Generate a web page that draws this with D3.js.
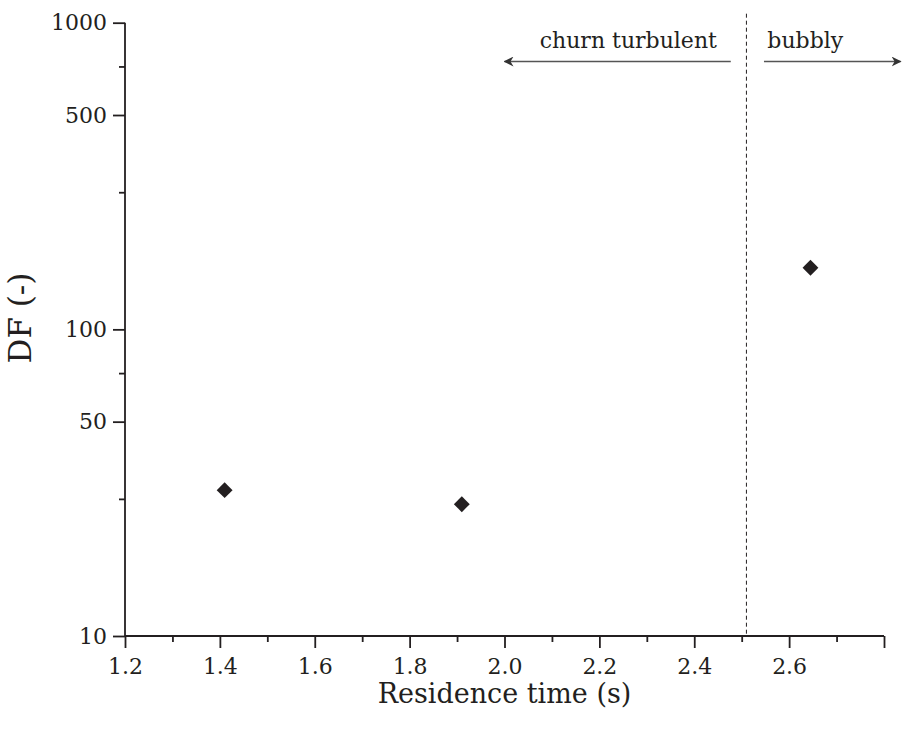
<!DOCTYPE html>
<html>
<head>
<meta charset="utf-8">
<script src="https://cdn.jsdelivr.net/npm/d3@7"></script>
<style>
  body { margin: 0; background: #fff; }
  text { font-family: "DejaVu Serif", serif; fill: #231f20; }
</style>
</head>
<body>
<div id="chart"></div>
<script>
// data
var residenceTime = [1.41, 1.91, 2.645];
var dfValues = [29.9, 26.9, 158.8];
var xTicks = [1.2, 1.4, 1.6, 1.8, 2.0, 2.2, 2.4, 2.6, 2.8];
var xMinorTicks = [1.3, 1.5, 1.7, 1.9, 2.1, 2.3, 2.5, 2.7];
var yTicks = [10, 50, 100, 500, 1000];
var yMinorTicks = [28, 72, 280, 720];
var regimeBoundary = 2.51;

var svg = d3.select("#chart").append("svg")
  .attr("width", 907)
  .attr("height", 740);

var x = d3.scaleLinear().domain([1.2, 2.8]).range([125, 884]);
var y = d3.scaleLog().domain([10, 1000]).range([636, 22.7]);

var ink = "#231f20";

// x axis
var xAxis = svg.append("g")
  .attr("transform", "translate(0," + y(10) + ")")
  .call(d3.axisBottom(x).tickValues(xTicks).tickSize(12).tickPadding(10)
    .tickFormat(function(d){ return d == 2.8 ? "" : d3.format(".1f")(d); }));
svg.append("g")
  .attr("transform", "translate(0," + y(10) + ")")
  .call(d3.axisBottom(x).tickValues(xMinorTicks).tickSize(6).tickFormat(""))
  .select(".domain").remove();

// y axis
var yAxis = svg.append("g")
  .attr("transform", "translate(" + x(1.2) + ",0)")
  .call(d3.axisLeft(y).tickValues(yTicks).tickSize(12).tickPadding(6)
    .tickFormat(d3.format("d")));
svg.append("g")
  .attr("transform", "translate(" + x(1.2) + ",0)")
  .call(d3.axisLeft(y).tickValues(yMinorTicks).tickSize(6).tickFormat(""))
  .select(".domain").remove();

svg.selectAll(".domain").attr("stroke", ink).attr("stroke-width", 1.8);
svg.selectAll(".tick line").attr("stroke", ink).attr("stroke-width", 1.8);
svg.selectAll(".tick text")
  .style("font-family", "DejaVu Serif")
  .style("font-size", "22px")
  .attr("fill", ink);
// plain axis lines without the outer stubs
xAxis.select(".domain").attr("d", "M" + x(1.2) + ",0H" + x(2.8));
yAxis.select(".domain").attr("d", "M0," + y(10) + "V" + y(1000));

// axis titles
svg.append("text")
  .text("Residence time (s)")
  .attr("x", (x(1.2) + x(2.8)) / 2)
  .attr("y", 703)
  .attr("text-anchor", "middle")
  .style("font-size", "27px");

svg.append("text")
  .text("DF (-)")
  .attr("transform", "translate(31,318) rotate(-90)")
  .attr("text-anchor", "middle")
  .style("font-size", "31px");

// regime boundary
svg.append("line")
  .attr("x1", x(regimeBoundary))
  .attr("x2", x(regimeBoundary))
  .attr("y1", y(1070))
  .attr("y2", y(10))
  .attr("stroke", ink)
  .attr("stroke-width", 1)
  .attr("stroke-dasharray", "4,3");

// regime annotations
svg.append("defs").append("marker")
  .attr("id", "head")
  .attr("viewBox", "0 0 10 10")
  .attr("refX", 9)
  .attr("refY", 5)
  .attr("markerWidth", 10)
  .attr("markerHeight", 10)
  .attr("markerUnits", "userSpaceOnUse")
  .attr("orient", "auto")
  .append("path")
    .attr("d", "M0,0 L10,5 L0,10 L3,5 Z")
    .attr("fill", "#333");

svg.append("line")
  .attr("x1", x(2.477)).attr("x2", x(2.0))
  .attr("y1", y(747)).attr("y2", y(747))
  .attr("stroke", "#555").attr("stroke-width", 1.5)
  .attr("marker-end", "url(#head)");

svg.append("line")
  .attr("x1", x(2.547)).attr("x2", x(2.835))
  .attr("y1", y(747)).attr("y2", y(747))
  .attr("stroke", "#555").attr("stroke-width", 1.5)
  .attr("marker-end", "url(#head)");

svg.append("text")
  .text("churn turbulent")
  .attr("x", x(2.261))
  .attr("y", y(830))
  .attr("text-anchor", "middle")
  .style("font-size", "22px");

svg.append("text")
  .text("bubbly")
  .attr("x", x(2.634))
  .attr("y", y(830))
  .attr("text-anchor", "middle")
  .style("font-size", "22px");

// data points
svg.selectAll(".pt")
  .data(d3.range(residenceTime.length))
  .enter().append("path")
    .attr("class", "pt")
    .attr("d", d3.symbol().type(d3.symbolDiamond2).size(160))
    .attr("transform", function(i){
      return "translate(" + x(residenceTime[i]) + "," + y(dfValues[i]) + ")";
    })
    .attr("fill", ink);
</script>
</body>
</html>
